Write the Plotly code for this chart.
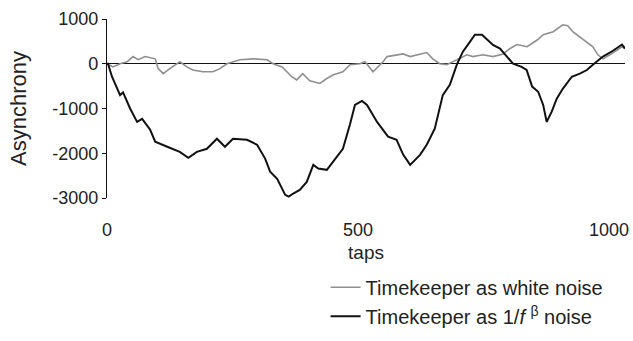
import plotly.graph_objects as go

# Black curve: timekeeper as 1/f^beta noise (taps, asynchrony)
pink_taps = [0, 2, 10, 20, 26, 32, 38, 46, 60, 70, 86, 96, 120, 145, 162, 179, 199, 219, 235,
             251, 279, 299, 315, 325, 339, 355, 362, 371, 384, 398, 411, 421, 438, 450, 470,
             484, 494, 508, 518, 538, 560, 577, 590, 604, 624, 637, 653, 669, 683, 697, 709,
             723, 733, 747, 759, 769, 783, 797, 809, 826, 836, 847, 859, 869, 876, 886, 896,
             908, 926, 942, 956, 968, 988, 1008, 1026, 1032]
pink_vals = [0, 0, -290, -560, -700, -640, -800, -1000, -1300, -1230, -1475, -1740, -1855, -1970,
             -2100, -1970, -1900, -1675, -1855, -1675, -1700, -1810, -2120, -2410, -2570, -2930,
             -2970, -2900, -2820, -2640, -2260, -2340, -2370, -2190, -1900, -1360, -920, -830,
             -920, -1300, -1630, -1700, -2030, -2260, -2030, -1810, -1450, -700, -470, -20, 270,
             490, 650, 650, 530, 420, 340, 160, 0, -70, -140, -510, -625, -920, -1300, -1070,
             -780, -560, -290, -220, -140, -20, 160, 290, 430, 340]

# Gray curve: timekeeper as white noise
white_taps = [0, 12, 26, 40, 52, 62, 76, 96, 102, 112, 125, 145, 159, 171, 191, 211, 225, 239,
              265, 291, 319, 331, 349, 368, 378, 390, 404, 424, 438, 450, 470, 484, 504, 514,
              530, 550, 558, 578, 590, 604, 618, 637, 649, 663, 677, 697, 717, 729, 749, 769,
              789, 803, 817, 837, 857, 869, 889, 908, 918, 928, 942, 956, 968, 978, 988, 1002,
              1016, 1026, 1032]
white_vals = [0, -70, 0, 45, 160, 90, 160, 110, -110, -220, -110, 45, -70, -140, -180, -180, -110,
              0, 90, 110, 90, 0, -70, -290, -360, -220, -380, -440, -330, -250, -180, -20, 0, 45,
              -180, 45, 160, 200, 220, 160, 200, 250, 110, 0, -20, 90, 200, 160, 200, 160, 220,
              340, 430, 380, 530, 650, 715, 870, 850, 715, 600, 490, 380, 200, 110, 200, 310,
              380, 340]

y_ticks = [1000, 0, -1000, -2000, -3000]
y_tick_text = ["1000", "0", "-1000", "-2000", "-3000"]
x_ticks = [0, 500, 1000]
x_tick_text = ["0", "500", "1000"]

FONT = "Liberation Sans, Arial, sans-serif"

fig = go.Figure()
fig.add_trace(go.Scatter(x=white_taps, y=white_vals, mode="lines",
                         line=dict(color="#8f8f8f", width=1.6),
                         name="Timekeeper as white noise"))
fig.add_trace(go.Scatter(x=pink_taps, y=pink_vals, mode="lines",
                         line=dict(color="#111111", width=2),
                         name="Timekeeper as 1/<i>f</i> <sup>β</sup> noise"))

fig.update_layout(
    width=633, height=341,
    margin=dict(l=107, r=8, t=19, b=143, autoexpand=False),
    paper_bgcolor="white", plot_bgcolor="white",
    font=dict(family=FONT, color="#222222", size=18),
    showlegend=True,
    legend=dict(x=0.422, y=-0.39, xanchor="left", yanchor="top",
                font=dict(size=20, family=FONT, color="#222222"),
                bgcolor="rgba(0,0,0,0)", tracegroupgap=0),
)
fig.update_xaxes(range=[0, 1032], tickvals=x_ticks, ticktext=x_tick_text,
                 showgrid=False, zeroline=False,
                 showline=False, ticks="", ticklabelstandoff=19,
                 tickfont=dict(size=18),
                 title=dict(text="taps", font=dict(size=19), standoff=6))
fig.update_yaxes(range=[-3000, 1000], tickvals=y_ticks, ticktext=y_tick_text,
                 showgrid=False,
                 zeroline=True, zerolinecolor="#111111", zerolinewidth=1.2,
                 showline=True, linecolor="#111111", linewidth=1.2,
                 ticks="outside", ticklen=4, tickcolor="#111111",
                 tickfont=dict(size=18),
                 title=dict(text="Asynchrony", font=dict(size=22), standoff=19))

fig.write_html("out.html")
